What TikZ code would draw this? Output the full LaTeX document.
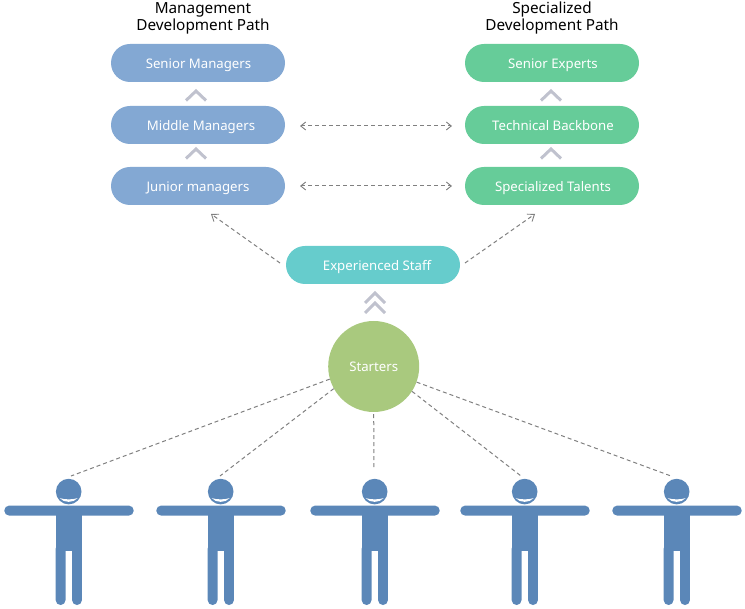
\documentclass[tikz,border=0pt]{standalone}
\usepackage{fontspec}
\setmainfont{Noto Sans}
\newfontfamily\titlefont{Noto Sans}
\usetikzlibrary{arrows.meta}
\definecolor{pillblue}{HTML}{83A8D3}
\definecolor{pillgreen}{HTML}{66CC99}
\definecolor{pillteal}{HTML}{66CCCC}
\definecolor{circgreen}{HTML}{A9C97E}
\definecolor{personblue}{HTML}{5B87B8}
\definecolor{chevgray}{HTML}{C0C2CE}
\definecolor{dashgray}{HTML}{808080}
\tikzset{
  pill/.style={rounded corners=19pt,minimum width=174pt,minimum height=38pt,inner sep=0pt,text=white,text height=13.5pt,text depth=3pt,font=\fontsize{13.2}{16}\selectfont},
  title/.style={align=center,text=black,inner sep=0pt,font=\titlefont\fontsize{15.3}{18}\selectfont},
  dashline/.style={draw=dashgray,line width=1pt,dash pattern=on 4pt off 3pt},
  dasharrow/.style={dashline,{Straight Barb[length=5pt,width=8pt,line width=0.9pt]}-{Straight Barb[length=5pt,width=8pt,line width=0.9pt]}},
  dashsingle/.style={dashline,-{Straight Barb[length=6pt,width=9pt,line width=0.9pt]}},
  chevron/.style={draw=chevgray,line width=3pt,miter limit=10},
  pics/person/.style={code={
    \fill[personblue] (0,0) circle[radius=12.8pt];
    \fill[white] (-9,6.5) .. controls (-4,8.2) and (4,8.2) .. (9,6.5) .. controls (5,11.5) and (-5,11.5) .. cycle;
    \fill[personblue,rounded corners=4.8pt] (-64.4,14) rectangle (65,24);
    \fill[personblue] (-13,20) rectangle (13.2,59);
    \fill[personblue,rounded corners=4.8pt] (-13,52) -- (-13,113.4) -- (-3.2,113.4) -- (-3.2,52) -- cycle;
    \fill[personblue,rounded corners=4.8pt] (3.4,52) -- (3.4,113.4) -- (13.2,113.4) -- (13.2,52) -- cycle;
  }}
}
\begin{document}
\begin{tikzpicture}[x=1pt,y=-1pt]
\useasboundingbox (0,0) rectangle (745,609);
\node[title] (t1) at (203,18.5) {Management\\[-1pt]Development Path};
\node[title] (t2) at (552,18.5) {Specialized\\[-1pt]Development Path};
\node[pill,fill=pillblue] (sm) at (198,63) {\hspace*{1pt}Senior Managers};
\node[pill,fill=pillblue] (mm) at (198,125) {\hspace*{6pt}Middle Managers};
\node[pill,fill=pillblue] (jm) at (198,186) {Junior managers};
\node[pill,fill=pillgreen] (se) at (552,63) {\hspace*{2pt}Senior Experts};
\node[pill,fill=pillgreen] (tb) at (552,125) {\hspace*{2pt}Technical Backbone};
\node[pill,fill=pillgreen] (st) at (552,186) {\hspace*{2pt}Specialized Talents};
\node[pill,fill=pillteal] (es) at (373,265) {\hspace*{8pt}Experienced Staff};
\node[circle,fill=circgreen,minimum size=91pt,inner sep=0pt,text=white,text height=13.5pt,text depth=3pt,font=\fontsize{13.2}{16}\selectfont] (start) at (373.7,366.5) {Starters};
% chevrons
\draw[chevron] (186,100.5) -- (196,91) -- (206,100.5);
\draw[chevron] (186,158.5) -- (196,149) -- (206,158.5);
\draw[chevron] (541,100.5) -- (551,91) -- (561,100.5);
\draw[chevron] (541,158.5) -- (551,149) -- (561,158.5);
\draw[chevron] (365,303) -- (375,293) -- (385,303);
\draw[chevron] (365,313) -- (375,303) -- (385,313);
% people
\pic (p1) at (68.7,491.6) {person};
\pic (p2) at (220.7,491.6) {person};
\pic (p3) at (374.7,491.6) {person};
\pic (p4) at (524.7,491.6) {person};
\pic (p5) at (676.7,491.6) {person};
\coordinate (c1) at (71,476);
\coordinate (c2) at (220,476);
\coordinate (c3) at (374,468);
\coordinate (c4) at (521,476);
\coordinate (c5) at (671,476);
\draw[dashline] (start.196) -- (c1);
\draw[dashline] (start.209) -- (c2);
\draw[dashline] (start.270) ++(0,2) -- (c3);
\draw[dashline] (start.327) -- (c4);
\draw[dashline] (start.340) -- (c5);
% double arrows
\coordinate (a1) at (300,126);
\coordinate (a2) at (452,126);
\coordinate (b1) at (300,186);
\coordinate (b2) at (452,186);
\draw[dasharrow] (a1) -- (a2);
\draw[dasharrow] (b1) -- (b2);
\coordinate (e1) at (280,263);
\coordinate (e2) at (211,214);
\coordinate (e3) at (465,263);
\coordinate (e4) at (535,214);
\draw[dashsingle] (e1) -- (e2);
\draw[dashsingle] (e3) -- (e4);
\end{tikzpicture}
\end{document}
